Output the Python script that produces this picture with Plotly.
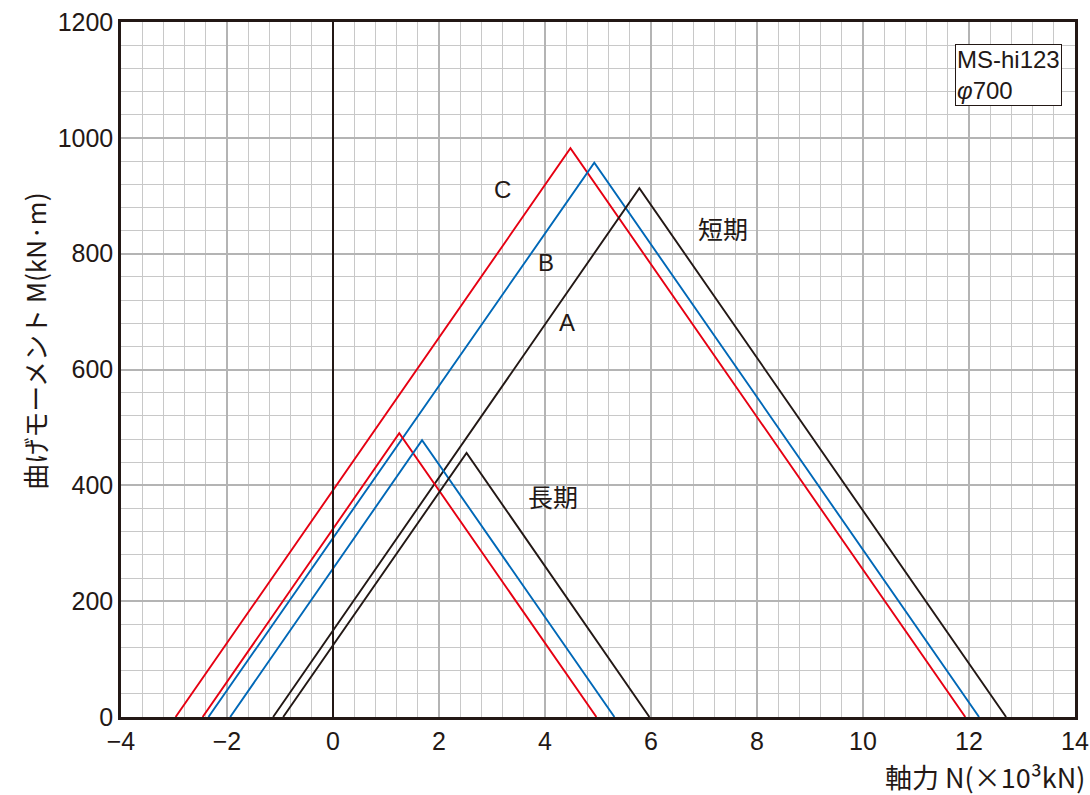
import plotly.graph_objects as go

# Short-term (短期) interaction lines: start (M=0), peak, end (M=0)
short_C_N = [-2.97, 4.48, 11.93]
short_C_M = [0, 982, 0]
short_B_N = [-2.35, 4.93, 12.19]
short_B_M = [0, 957, 0]
short_A_N = [-1.13, 5.78, 12.70]
short_A_M = [0, 913, 0]

# Long-term (長期)
long_C_N = [-2.46, 1.25, 4.97]
long_C_M = [0, 490, 0]
long_B_N = [-1.94, 1.68, 5.31]
long_B_M = [0, 478, 0]
long_A_N = [-0.94, 2.52, 5.97]
long_A_M = [0, 456, 0]

x_ticks = [-4, -2, 0, 2, 4, 6, 8, 10, 12, 14]
x_tick_text = ["−4", "−2", "0", "2", "4", "6", "8", "10", "12", "14"]
y_ticks = [0, 200, 400, 600, 800, 1000, 1200]

RED = "#e60012"
BLUE = "#0068b7"
BLACK = "#231815"

FONT = "Liberation Sans, Arial, Noto Sans CJK JP, sans-serif"
CJK = "Noto Sans CJK JP, Liberation Sans, sans-serif"

fig = go.Figure()

series = [
    (short_C_N, short_C_M, RED),
    (short_B_N, short_B_M, BLUE),
    (short_A_N, short_A_M, BLACK),
    (long_C_N, long_C_M, RED),
    (long_B_N, long_B_M, BLUE),
    (long_A_N, long_A_M, BLACK),
]
for xs, ys, c in series:
    fig.add_trace(go.Scatter(x=xs, y=ys, mode="lines",
                             line=dict(color=c, width=1.9),
                             showlegend=False, hoverinfo="skip"))

# vertical line at N = 0
fig.add_trace(go.Scatter(x=[0, 0], y=[0, 1200], mode="lines",
                         line=dict(color=BLACK, width=2),
                         showlegend=False, hoverinfo="skip"))

labels = [
    (3.19, 910, "C"),
    (4.02, 784, "B"),
    (4.42, 682, "A"),
]
for x, y, t in labels:
    fig.add_annotation(x=x, y=y, text=t, showarrow=False,
                       font=dict(family=FONT, size=24, color=BLACK))

fig.add_annotation(x=7.35, y=845, text="短期", showarrow=False,
                   font=dict(family=CJK, size=25, color=BLACK))
fig.add_annotation(x=4.16, y=382, text="長期", showarrow=False,
                   font=dict(family=CJK, size=25, color=BLACK))

fig.add_annotation(x=13.76, y=1162, xanchor="right", yanchor="top",
                   text="MS-hi123<br><i>φ</i>700", align="left",
                   showarrow=False, bgcolor="white",
                   bordercolor=BLACK, borderwidth=1, borderpad=1,
                   font=dict(family=FONT, size=24, color=BLACK))

# axis titles
fig.add_annotation(xref="paper", yref="paper", x=1.0126, y=-0.0863,
                   xanchor="right", yanchor="middle",
                   text="軸力 N(×10³kN)", showarrow=False,
                   font=dict(family=CJK, size=27, color=BLACK))
fig.add_annotation(xref="paper", yref="paper", x=-0.090, y=0.54,
                   xanchor="center", yanchor="middle", textangle=-90,
                   text="曲げモーメント M(kN·m)", showarrow=False,
                   font=dict(family=CJK, size=26, color=BLACK))

fig.update_layout(
    width=1090, height=795,
    margin=dict(l=121, r=15, t=22, b=78, autoexpand=False),
    paper_bgcolor="white", plot_bgcolor="white",
    font=dict(family=FONT, size=25, color=BLACK),
    xaxis=dict(range=[-4, 14], tickvals=x_ticks, ticktext=x_tick_text,
               automargin=False, ticklabeloverflow="allow",
               showgrid=True, gridcolor="#b4b4b4", gridwidth=2,
               minor=dict(dtick=0.4, tick0=0, showgrid=True,
                          gridcolor="#c8c8c8", gridwidth=1),
               showline=True, linecolor=BLACK, linewidth=2.5, mirror=True,
               zeroline=False, ticks="", ticklen=0,
               tickfont=dict(family=FONT, size=25, color=BLACK)),
    yaxis=dict(range=[0, 1200], tickvals=y_ticks,
               automargin=False, ticklabeloverflow="allow",
               showgrid=True, gridcolor="#b4b4b4", gridwidth=2,
               minor=dict(dtick=40, tick0=0, showgrid=True,
                          gridcolor="#c8c8c8", gridwidth=1),
               showline=True, linecolor=BLACK, linewidth=2.5, mirror=True,
               zeroline=False, ticks="", ticklen=0,
               tickfont=dict(family=FONT, size=25, color=BLACK)),
)

fig.write_html("out.html",
               config={"displayModeBar": False},
               post_script="document.body.style.margin='0';"
                           "document.body.style.overflow='hidden';")
